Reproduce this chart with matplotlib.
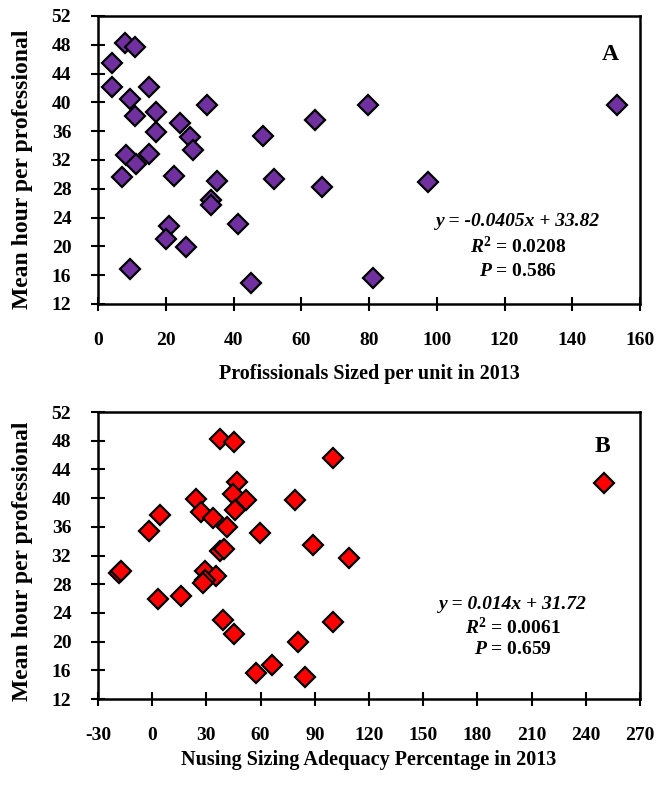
import matplotlib
matplotlib.use("Agg")
import matplotlib.pyplot as plt

plt.rcParams['font.family'] = ['Liberation Serif', 'DejaVu Serif']
plt.rcParams['font.weight'] = 'bold'
plt.rcParams['axes.unicode_minus'] = False
plt.rcParams['mathtext.fontset'] = 'custom'
plt.rcParams['mathtext.bfit'] = 'Liberation Serif:bold:italic'
plt.rcParams['mathtext.it'] = 'Liberation Serif:bold:italic'
plt.rcParams['mathtext.rm'] = 'Liberation Serif:bold'
plt.rcParams['mathtext.bf'] = 'Liberation Serif:bold'

# Panel A data
a_x = [7.9, 10.8, 4.2, 4.2, 15.0, 9.4, 32.3, 10.8, 17.2, 17.2, 24.1, 27.1, 28.1,
       48.7, 64.0, 79.8, 153.1, 8.2, 15.0, 11.1, 7.2, 22.4, 35.2, 52.0, 66.2,
       97.3, 33.3, 33.3, 21.0, 20.2, 26.1, 41.2, 9.4, 45.3, 81.2]
a_y = [48.2, 47.7, 45.5, 42.1, 42.1, 40.5, 39.7, 38.1, 38.7, 35.9, 37.2, 35.2, 33.4,
       35.3, 37.5, 39.7, 39.7, 32.7, 32.8, 31.4, 29.7, 29.8, 29.1, 29.3, 28.3,
       28.9, 26.4, 25.7, 22.8, 21.0, 19.9, 23.1, 16.8, 14.9, 15.6]

# Panel B data
b_x = [37.3, 45.3, 100.0, 47.1, 44.7, 52.1, 24.5, 78.9, 46.0, 27.2, 4.5, 33.6,
       41.6, -1.8, 59.5, 89.0, 37.3, 39.7, 108.9, -18.4, -17.0, 29.0, 35.1, 29.0,
       28.1, 3.2, 15.8, 39.2, 45.3, 100.0, 80.7, 66.5, 57.7, 84.8, 249.9]
b_y = [48.2, 47.8, 45.6, 42.3, 40.6, 39.8, 39.9, 39.8, 38.4, 38.1, 37.6, 37.2,
       36.0, 35.4, 35.2, 33.4, 32.6, 32.9, 31.7, 29.6, 29.8, 29.8, 29.1, 28.6,
       28.2, 26.0, 26.3, 23.0, 21.1, 22.8, 19.9, 16.8, 15.6, 15.0, 42.1]

a_xticks = list(range(0, 161, 20))
b_xticks = list(range(-30, 271, 30))
yticks = list(range(12, 53, 4))

W, H = 658, 785
fig = plt.figure(figsize=(W / 100, H / 100), dpi=100)

def setup(ax, xticks, xlabel, xpad, xlabelpad, ylab_y):
    for s in ax.spines.values():
        s.set_linewidth(1.8)
        s.set_color('black')
    ax.set_xlim(xticks[0], xticks[-1])
    ax.set_ylim(12, 52)
    ax.set_xticks(xticks)
    ax.set_yticks(yticks)
    ax.tick_params(direction='inout', length=9.5, width=1.5, labelsize=14, color='black')
    ax.tick_params(axis='x', pad=xpad)
    ax.tick_params(axis='y', pad=14.5)
    for lab in ax.get_xticklabels() + ax.get_yticklabels():
        lab.set_fontweight('bold')
    ax.set_xlabel(xlabel, fontsize=14.5, fontweight='bold', labelpad=xlabelpad)
    ax.set_ylabel('Mean hour per professional', fontsize=17, fontweight='bold')
    ax.yaxis.set_label_coords(-0.12, ylab_y)

axA = fig.add_axes([98 / W, 1 - 304 / H, 542 / W, 288 / H])
axA.plot(a_x, a_y, ls='none', marker='D', ms=10.5, mfc='#7030A0', mec='black', mew=1.6, clip_on=False)
setup(axA, a_xticks, 'Profissionals Sized per unit in 2013', 15.5, 11, 0.469)
axA.text(0.96, 0.846, 'A', transform=axA.transAxes, fontsize=17, fontweight='bold', ha='right')
axA.text(0.775, 0.285, r'y = -0.0405x + 33.82', transform=axA.transAxes, fontsize=14,
         fontweight='bold', style='italic', ha='center', va='center')
axA.text(0.775, 0.198, r'$\mathbfit{R}^{2}$ = 0.0208', transform=axA.transAxes, fontsize=14,
         fontweight='bold', ha='center', va='center')
axA.text(0.775, 0.112, r'$\mathbfit{P}$ = 0.586', transform=axA.transAxes, fontsize=14,
         fontweight='bold', ha='center', va='center')

axB = fig.add_axes([98 / W, 1 - 699 / H, 542 / W, 287 / H])
axB.plot(b_x, b_y, ls='none', marker='D', ms=10.5, mfc='#FF0000', mec='black', mew=1.6, clip_on=False)
setup(axB, b_xticks, 'Nusing Sizing Adequacy Percentage in 2013', 15.5, 4.5, 0.481)
axB.text(0.945, 0.86, 'B', transform=axB.transAxes, fontsize=17, fontweight='bold', ha='right')
axB.text(0.765, 0.33, r'y = 0.014x + 31.72', transform=axB.transAxes, fontsize=14,
         fontweight='bold', style='italic', ha='center', va='center')
axB.text(0.765, 0.25, r'$\mathbfit{R}^{2}$ = 0.0061', transform=axB.transAxes, fontsize=14,
         fontweight='bold', ha='center', va='center')
axB.text(0.765, 0.172, r'$\mathbfit{P}$ = 0.659', transform=axB.transAxes, fontsize=14,
         fontweight='bold', ha='center', va='center')

fig.savefig('out.png', dpi=100)
